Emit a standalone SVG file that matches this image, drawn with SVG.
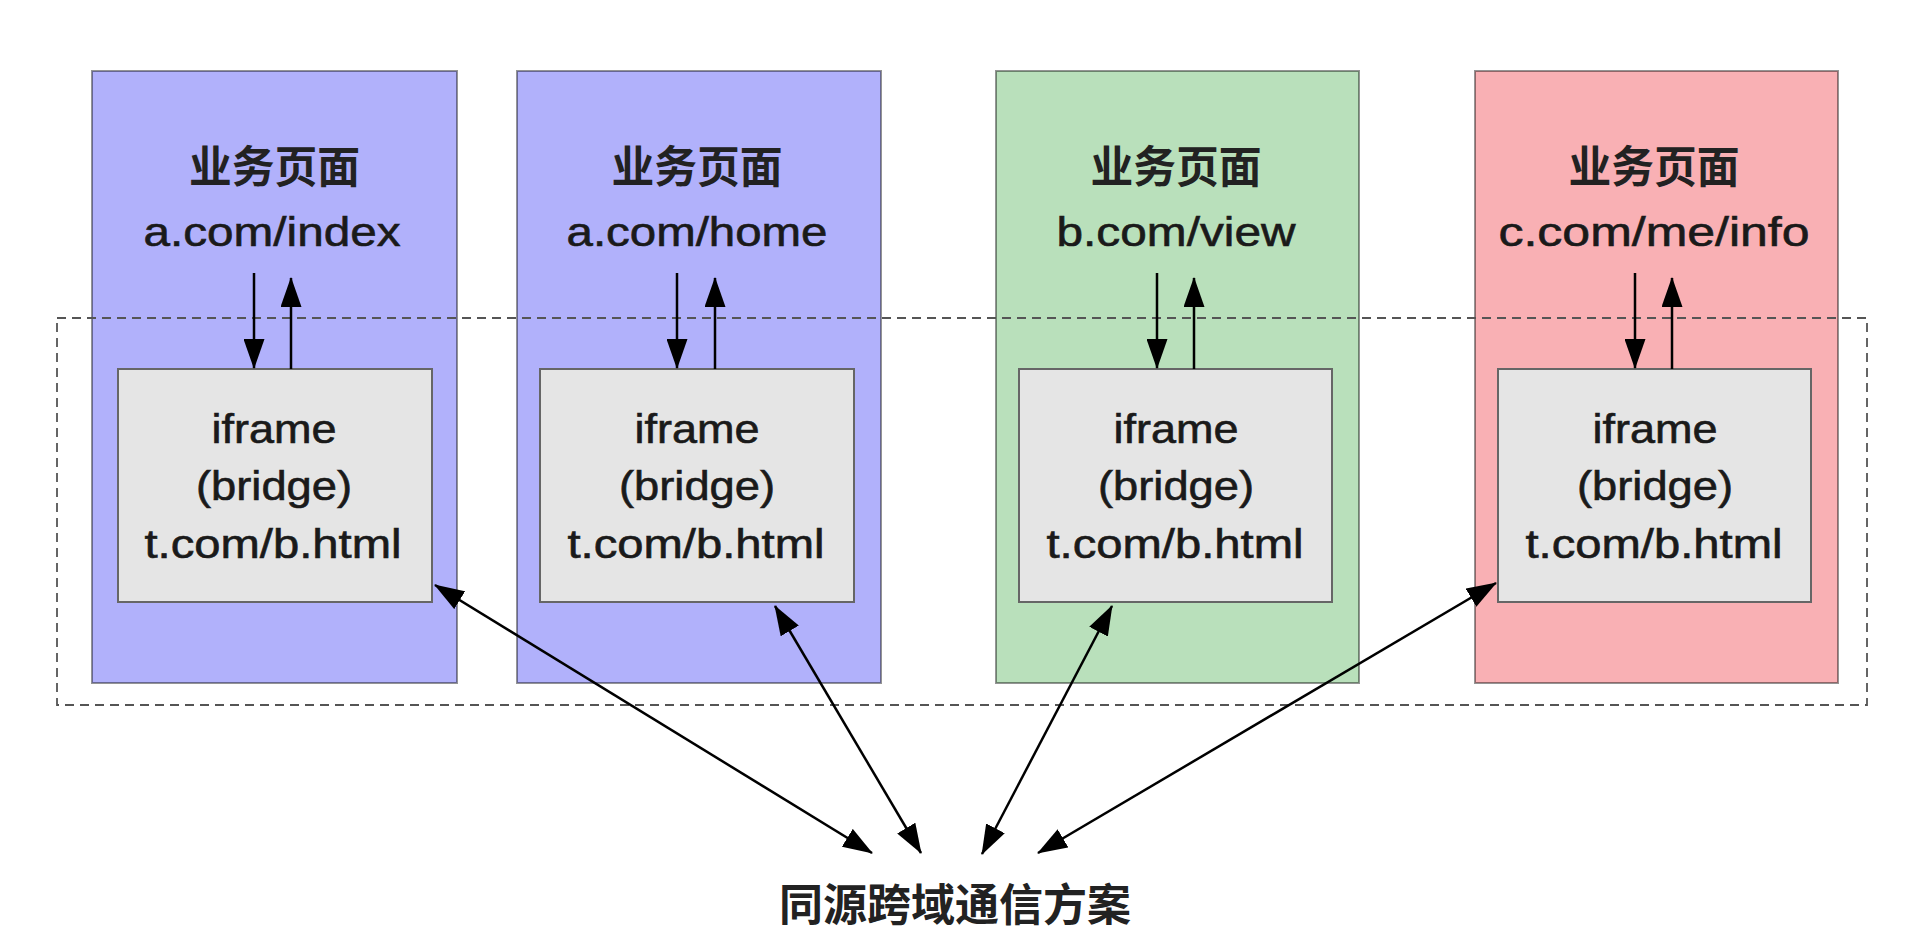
<svg xmlns="http://www.w3.org/2000/svg" width="1922" height="934" viewBox="0 0 1922 934">
<defs>
<marker id="ah" viewBox="0 0 30 21" refX="29" refY="10.5" markerWidth="30" markerHeight="21" markerUnits="userSpaceOnUse" orient="auto-start-reverse">
<path d="M0,0 L30,10.5 L0,21 z" fill="#000"/>
</marker>
<style>
.outer{stroke:#000;stroke-opacity:0.42;stroke-width:2}
.blue{fill:#b1b1fb}
.green{fill:#b9e0bb}
.pink{fill:#f9b0b4}
.inner{fill:#e5e5e5;stroke:#666;stroke-width:2}
.cjk{font-family:"Noto Sans CJK SC","Liberation Sans",sans-serif;font-weight:600;font-size:44px;fill:#222;text-anchor:middle}
.lat{font-family:"Liberation Sans",Arial,sans-serif;font-size:40px;fill:#1a1a1a;stroke:#1a1a1a;stroke-width:0.6;text-anchor:middle}
.conn{stroke:#000;stroke-width:2.5;fill:none}
.dash{fill:none;stroke:#555;stroke-width:1.8;stroke-dasharray:9 6}
</style>
</defs>
<rect width="1922" height="934" fill="#fff"/>

<g id="page1">
<rect class="outer blue" x="92" y="71" width="365" height="612"/>
<text class="cjk" x="274.5" y="183" textLength="171" lengthAdjust="spacingAndGlyphs">业务页面</text>
<text class="lat" x="272" y="246" textLength="257" lengthAdjust="spacingAndGlyphs">a.com/index</text>
</g>
<g id="page2">
<rect class="outer blue" x="517" y="71" width="364" height="612"/>
<text class="cjk" x="697" y="183" textLength="171" lengthAdjust="spacingAndGlyphs">业务页面</text>
<text class="lat" x="697" y="246" textLength="261" lengthAdjust="spacingAndGlyphs">a.com/home</text>
</g>
<g id="page3">
<rect class="outer green" x="996" y="71" width="363" height="612"/>
<text class="cjk" x="1176" y="183" textLength="171" lengthAdjust="spacingAndGlyphs">业务页面</text>
<text class="lat" x="1176" y="246" textLength="239" lengthAdjust="spacingAndGlyphs">b.com/view</text>
</g>
<g id="page4">
<rect class="outer pink" x="1475" y="71" width="363" height="612"/>
<text class="cjk" x="1654" y="183" textLength="171" lengthAdjust="spacingAndGlyphs">业务页面</text>
<text class="lat" x="1654" y="246" textLength="311" lengthAdjust="spacingAndGlyphs">c.com/me/info</text>
</g>

<g id="sameOriginZone">
<rect class="dash" x="57" y="318" width="1810" height="387"/>
</g>

<g id="bridge1">
<rect class="inner" x="118" y="369" width="314" height="233"/>
<text class="lat" x="274" y="443" textLength="125" lengthAdjust="spacingAndGlyphs">iframe</text>
<text class="lat" x="274" y="500" textLength="156" lengthAdjust="spacingAndGlyphs">(bridge)</text>
<text class="lat" x="273" y="558" textLength="257" lengthAdjust="spacingAndGlyphs">t.com/b.html</text>
</g>
<g id="bridge2">
<rect class="inner" x="540" y="369" width="314" height="233"/>
<text class="lat" x="697" y="443" textLength="125" lengthAdjust="spacingAndGlyphs">iframe</text>
<text class="lat" x="697" y="500" textLength="156" lengthAdjust="spacingAndGlyphs">(bridge)</text>
<text class="lat" x="696" y="558" textLength="257" lengthAdjust="spacingAndGlyphs">t.com/b.html</text>
</g>
<g id="bridge3">
<rect class="inner" x="1019" y="369" width="313" height="233"/>
<text class="lat" x="1176" y="443" textLength="125" lengthAdjust="spacingAndGlyphs">iframe</text>
<text class="lat" x="1176" y="500" textLength="156" lengthAdjust="spacingAndGlyphs">(bridge)</text>
<text class="lat" x="1175" y="558" textLength="257" lengthAdjust="spacingAndGlyphs">t.com/b.html</text>
</g>
<g id="bridge4">
<rect class="inner" x="1498" y="369" width="313" height="233"/>
<text class="lat" x="1655" y="443" textLength="125" lengthAdjust="spacingAndGlyphs">iframe</text>
<text class="lat" x="1655" y="500" textLength="156" lengthAdjust="spacingAndGlyphs">(bridge)</text>
<text class="lat" x="1654" y="558" textLength="257" lengthAdjust="spacingAndGlyphs">t.com/b.html</text>
</g>

<g id="solution">
<text class="cjk" x="955" y="921" font-weight="500" textLength="352" lengthAdjust="spacingAndGlyphs">同源跨域通信方案</text>
</g>

<g id="connectors">
<line class="conn" x1="254" y1="273" x2="254" y2="368" marker-end="url(#ah)"/>
<line class="conn" x1="291" y1="369" x2="291" y2="278" marker-end="url(#ah)"/>
<line class="conn" x1="677" y1="273" x2="677" y2="368" marker-end="url(#ah)"/>
<line class="conn" x1="715" y1="369" x2="715" y2="278" marker-end="url(#ah)"/>
<line class="conn" x1="1157" y1="273" x2="1157" y2="368" marker-end="url(#ah)"/>
<line class="conn" x1="1194" y1="369" x2="1194" y2="278" marker-end="url(#ah)"/>
<line class="conn" x1="1635" y1="273" x2="1635" y2="368" marker-end="url(#ah)"/>
<line class="conn" x1="1672" y1="369" x2="1672" y2="278" marker-end="url(#ah)"/>
<line class="conn" x1="435" y1="585" x2="872" y2="853" marker-start="url(#ah)" marker-end="url(#ah)"/>
<line class="conn" x1="775" y1="606" x2="921" y2="853" marker-start="url(#ah)" marker-end="url(#ah)"/>
<line class="conn" x1="1112" y1="606" x2="982" y2="854" marker-start="url(#ah)" marker-end="url(#ah)"/>
<line class="conn" x1="1496" y1="583" x2="1038" y2="853" marker-start="url(#ah)" marker-end="url(#ah)"/>
</g>
</svg>
